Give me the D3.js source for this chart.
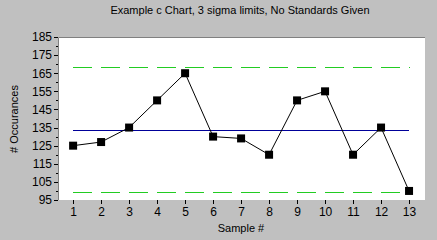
<!DOCTYPE html>
<html><head><meta charset="utf-8">
<script src="https://cdn.jsdelivr.net/npm/d3@7"></script>
<style>body{margin:0;background:#c0c0c0;}svg{display:block;font-family:"Liberation Sans",Arial,sans-serif;}</style>
</head><body><svg id="c" width="437" height="240"></svg>
<script>
const samples = [1,2,3,4,5,6,7,8,9,10,11,12,13];
const counts = [125,127,135,150,165,130,129,120,150,155,120,135,100];
const yTicks = [95,105,115,125,135,145,155,165,175,185];
const centerLine = 133.9;
const ucl = 168.6;
const lcl = 99.2;
const title = "Example c Chart, 3 sigma limits, No Standards Given";

const svg = d3.select("#c");
const L = 58, R = 425, T = 37, B = 200;
const x = d3.scaleLinear().domain([0.46, 13.57]).range([L, R]);
const y = d3.scaleLinear().domain([95, 185]).range([B, T]);

svg.append("rect").attr("width",437).attr("height",240).attr("fill","#c0c0c0");
svg.append("rect").attr("x",L).attr("y",T).attr("width",R-L).attr("height",B-T).attr("fill","#fff");
svg.append("path").attr("d",`M${L+0.5},${B}V${T+0.5}H${R}`).attr("fill","none").attr("stroke","#808080");

svg.append("text").attr("x",240).attr("y",14).attr("text-anchor","middle").attr("font-size",11).text(title);

// y axis
const ya = svg.append("g").attr("transform",`translate(${L},0)`)
  .call(d3.axisLeft(y).tickValues(yTicks).tickSize(4).tickPadding(2));
ya.select(".domain").remove();
ya.selectAll("text").attr("font-size",12).attr("font-family","Liberation Sans, Arial, sans-serif");
ya.selectAll("line").attr("stroke","#000").attr("shape-rendering","crispEdges");
// minor ticks
svg.append("g").selectAll("line").data(d3.range(100,185,10)).join("line")
  .attr("x1",L-2).attr("x2",L).attr("y1",d=>Math.round(y(d))+0.5).attr("y2",d=>Math.round(y(d))+0.5)
  .attr("stroke","#000").attr("shape-rendering","crispEdges");

// x axis
const xa = svg.append("g").attr("transform",`translate(0,${B})`)
  .call(d3.axisBottom(x).tickValues(samples).tickFormat(d3.format("d")).tickSize(4).tickPadding(3));
xa.select(".domain").remove();
xa.selectAll("line").attr("shape-rendering","crispEdges");
xa.selectAll("text").attr("font-size",12).attr("font-family","Liberation Sans, Arial, sans-serif");

svg.append("text").attr("x",241).attr("y",232).attr("text-anchor","middle").attr("font-size",11).text("Sample #");
svg.append("text").attr("transform","translate(18,119) rotate(-90)").attr("text-anchor","middle").attr("font-size",11).text("# Occurances");

const x0 = x(samples[0]), x1 = x(samples[samples.length-1]);
[ucl, lcl].forEach(v=>{
  svg.append("line").attr("x1",x0).attr("x2",x1+1).attr("y1",Math.round(y(v))+0.5).attr("y2",Math.round(y(v))+0.5)
    .attr("stroke","#22cc22").attr("stroke-width",1).attr("stroke-dasharray","19,9").attr("shape-rendering","crispEdges");
});
svg.append("line").attr("x1",x0).attr("x2",x1).attr("y1",Math.round(y(centerLine))+0.5).attr("y2",Math.round(y(centerLine))+0.5)
  .attr("stroke","#000099").attr("stroke-width",1).attr("shape-rendering","crispEdges");

const line = d3.line().x((d,i)=>x(samples[i])).y(d=>y(d));
svg.append("path").datum(counts).attr("d",line).attr("fill","none").attr("stroke","#000").attr("stroke-width",1);
svg.append("g").selectAll("rect").data(counts).join("rect")
  .attr("x",(d,i)=>x(samples[i])-4).attr("y",d=>y(d)-4).attr("width",8).attr("height",8).attr("fill","#000");
</script></body></html>
